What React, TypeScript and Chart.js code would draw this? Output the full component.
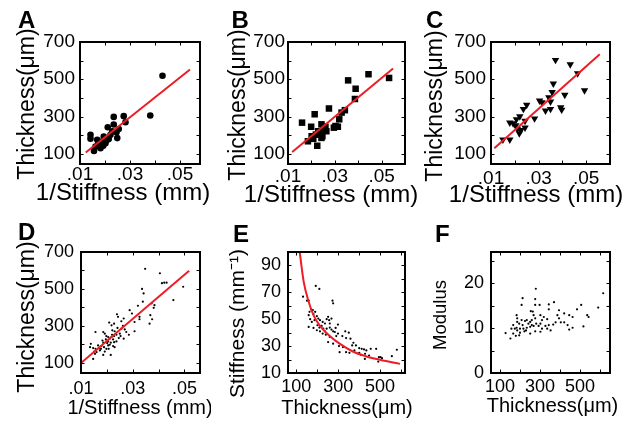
import React, { useEffect, useRef } from 'react';
import { Chart, registerables } from 'chart.js';

Chart.register(...registerables);

const FONT = '"Liberation Sans", Arial, Helvetica, sans-serif';
const RED = '#ee1c25';

// ---------- data: [1/stiffness (mm), thickness (um)] ----------
const aPoints: [number, number][] = [
  [0.0430, 519], [0.0381, 305], [0.0275, 302], [0.0235, 298], [0.0282, 269], [0.0235, 257],
  [0.0211, 242], [0.0255, 233], [0.0229, 220], [0.0246, 215], [0.0142, 202], [0.0142, 181],
  [0.0195, 193], [0.0215, 179], [0.0249, 184], [0.0169, 175], [0.0189, 166], [0.0178, 148],
  [0.0193, 143], [0.0162, 139], [0.0156, 115], [0.0222, 202], [0.0202, 157], [0.0173, 157],
  [0.0182, 130], [0.0209, 175],
];
const aFit: [number, number][] = [[0.0123, 107], [0.054, 552]];

const bPoints: [number, number][] = [
  [0.0444, 527], [0.0532, 507], [0.0357, 494], [0.0389, 449], [0.0386, 394], [0.0343, 334],
  [0.0329, 321], [0.0319, 285], [0.0303, 249], [0.0313, 245], [0.0296, 240], [0.0275, 343],
  [0.0214, 312], [0.0160, 267], [0.0199, 245], [0.0243, 258], [0.0260, 245], [0.0250, 231],
  [0.0229, 221], [0.0219, 203], [0.0201, 194], [0.0236, 203], [0.0247, 194], [0.0185, 167],
  [0.0208, 180], [0.0225, 143], [0.0264, 221], [0.0243, 185],
];
const bFit: [number, number][] = [[0.0118, 109], [0.0549, 558]];

const cPoints: [number, number][] = [
  [0.0371, 603], [0.0433, 580], [0.0464, 531], [0.0493, 440], [0.0362, 476], [0.0357, 431],
  [0.0410, 416], [0.0343, 403], [0.0304, 385], [0.0314, 376], [0.0350, 380], [0.0329, 331],
  [0.0350, 340], [0.0393, 349], [0.0397, 336], [0.0250, 362], [0.0236, 340], [0.0283, 289],
  [0.0221, 300], [0.0207, 285], [0.0243, 276], [0.0179, 267], [0.0193, 263], [0.0204, 252],
  [0.0243, 240], [0.0211, 234], [0.0219, 209], [0.0150, 176], [0.0179, 176], [0.0226, 227],
];
const cFit: [number, number][] = [[0.0114, 130], [0.0557, 634]];

const dPoints: [number, number][] = [
  [0.0348, 609], [0.0405, 585], [0.0413, 531], [0.0422, 534], [0.0431, 534], [0.0495, 512],
  [0.0457, 440], [0.0336, 500], [0.0342, 476], [0.0339, 431], [0.0320, 409], [0.0373, 422],
  [0.0384, 412], [0.0381, 398], [0.0288, 385], [0.0297, 367], [0.0326, 349], [0.0326, 336],
  [0.0368, 358], [0.0375, 336], [0.0365, 312], [0.0307, 321], [0.0265, 340], [0.0256, 325],
  [0.0239, 363], [0.0243, 349], [0.0228, 312], [0.0209, 318], [0.0218, 303], [0.0241, 289],
  [0.0262, 300], [0.0269, 281], [0.0275, 267], [0.0285, 252], [0.0250, 258], [0.0237, 252],
  [0.0230, 271], [0.0221, 276], [0.0156, 267], [0.0186, 267], [0.0192, 258], [0.0198, 245],
  [0.0205, 240], [0.0211, 231], [0.0196, 227], [0.0218, 240], [0.0224, 227], [0.0228, 212],
  [0.0237, 216], [0.0215, 209], [0.0205, 216], [0.0211, 198], [0.0186, 209], [0.0179, 191],
  [0.0166, 194], [0.0169, 180], [0.0156, 176], [0.0147, 180], [0.0138, 203], [0.0135, 185],
  [0.0160, 158], [0.0177, 176], [0.0189, 185], [0.0198, 176], [0.0205, 194], [0.0224, 191],
  [0.0230, 185], [0.0246, 234], [0.0253, 245], [0.0265, 231], [0.0154, 149], [0.0186, 143],
  [0.0215, 143], [0.0147, 121], [0.0192, 161], [0.0173, 167], [0.0151, 161], [0.0183, 221],
  [0.0220, 252], [0.0307, 271], [0.0207, 176], [0.0228, 245], [0.0256, 285], [0.0201, 207],
];
const dFit: [number, number][] = [[0.0101, 100], [0.0518, 598]];

// ---------- data: [thickness (um), stiffness (1/mm)] ----------
const ePoints: [number, number][] = [
  [193, 74.8], [210, 72.5], [132, 66.8], [151, 63.8], [159, 63.8], [273, 63.8], [276, 61.8],
  [171, 57.3], [179, 56.8], [190, 55.5], [163, 55.5], [159, 53], [182, 53.8], [198, 52.3],
  [166, 50], [174, 48], [187, 49.3], [205, 50.5], [213, 49.3], [226, 48], [245, 50],
  [252, 51.8], [257, 49.3], [268, 50.5], [260, 46.8], [237, 46.8], [221, 45], [210, 43.8],
  [229, 43], [245, 43], [260, 43.8], [268, 42.3], [276, 41], [284, 40.5], [299, 39.3],
  [299, 46], [334, 41], [351, 40], [338, 36], [359, 35.5], [373, 32.5], [367, 30.5],
  [385, 30.5], [401, 28.5], [413, 28], [424, 27.5], [435, 26.8], [456, 28], [482, 28],
  [378, 26.8], [401, 25], [338, 25.5], [354, 25], [307, 25.5], [276, 31.8], [252, 33],
  [260, 36.8], [241, 38.5], [226, 39.3], [213, 41], [198, 41.8], [159, 44.3], [182, 43.5],
  [304, 30], [323, 29.3], [429, 24.3], [448, 23], [495, 21.8], [503, 21.8], [510, 21],
  [492, 18.5], [557, 22.5], [581, 27.3], [428, 20.5], [409, 23.5], [320, 37.5], [291, 37.5],
  [237, 41], [201, 45.5], [288, 43.5],
];
const eFit: [number, number][] = [
  [116, 100], [135, 78], [159, 63], [182, 53], [213, 45], [260, 37.5], [307, 31.8],
  [370, 26], [432, 22.5], [495, 20], [557, 18], [596, 16.8],
];

// ---------- data: [thickness (um), modulus] ----------
const fPoints: [number, number][] = [
  [279, 18.8], [213, 16.7], [616, 17.8], [276, 16.5], [370, 15.8], [344, 15.3], [276, 15.2],
  [298, 15.2], [208, 15.2], [395, 14], [485, 14.2], [506, 15.2], [591, 14.6], [536, 12.9],
  [543, 12.5], [344, 14.2], [421, 13.3], [446, 12.9], [463, 12.5], [387, 12.9], [395, 12.2],
  [378, 11.3], [404, 11.3], [421, 11.3], [366, 10.8], [438, 10.7], [463, 10.1], [446, 9.7],
  [517, 10.4], [336, 12], [319, 12.5], [302, 12.9], [310, 11.8], [302, 11], [276, 12.2],
  [268, 12.9], [264, 13.7], [254, 13.8], [259, 11.8], [251, 11.4], [242, 11], [234, 11.8],
  [225, 11.6], [208, 11.8], [213, 10.7], [196, 11], [186, 12.2], [183, 12.9], [186, 11.4],
  [166, 10.7], [157, 9.9], [174, 9.9], [183, 10.1], [200, 9.9], [217, 9.9], [234, 10.1],
  [251, 10.3], [259, 10.7], [268, 10.5], [281, 11], [293, 10.5], [310, 9.9], [327, 10.5],
  [344, 10.7], [336, 9.9], [353, 9.5], [302, 9.2], [276, 9.3], [222, 9.3], [230, 9.5],
  [186, 9.5], [152, 7.7], [128, 8.9], [166, 8.8], [196, 8.4], [200, 9], [179, 8.3], [251, 8.8],
];

// ---------- ticks ----------
const invStiffTicks = [0.01, 0.03, 0.05];
const invStiffLabels = ['.01', '.03', '.05'];
const invStiffMarks = [0.02, 0.03, 0.04, 0.05];
const thickYTicks = [100, 300, 500, 700];
const thickYLabels = ['100', '300', '500', '700'];
const thickYMarks = [100, 200, 300, 400, 500, 600];
const thickXTicks = [100, 300, 500];
const thickXLabels = ['100', '300', '500'];
const thickXMarks = [100, 200, 300, 400, 500, 600];
const stiffTicks = [10, 30, 50, 70, 90];
const stiffLabels = ['10', '30', '50', '70', '90'];
const stiffMarks = [20, 30, 40, 50, 60, 70, 80, 90];
const modTicks = [0, 10, 20];
const modLabels = ['0', '10', '20'];
const modMarks = [5, 10, 15, 20, 25];

const INV_TITLE = '1/Stiffness (mm)';
const THICK_TITLE = 'Thickness(\u03bcm)';
const STIFF_TITLE = 'Stiffness (mm\u207b\u00b9)';
const MOD_TITLE = 'Modulus';

type AxisSpec = {
  min: number; max: number; ticks: number[]; labels: string[]; marks: number[];
  tickSize: number; tickPad: number;
};
type TitleSpec = { text: string; size: number; center: number; base: number };
type PanelSpec = {
  key: string; left: number; top: number; w: number; h: number;
  area: { l: number; t: number; r: number; b: number };
  letter: string; letterX: number; letterY: number;
  x: AxisSpec; y: AxisSpec; xTitle: TitleSpec; yTitle: TitleSpec;
  points: [number, number][]; marker: string; radius: number; rotation: number;
  fit: [number, number][]; smooth: boolean;
};

function axisOptions(a: AxisSpec, horizontal: boolean, size: number) {
  return {
    type: 'linear',
    min: a.min,
    max: a.max,
    grid: { display: false, drawTicks: false },
    border: { display: false },
    afterBuildTicks: (s: any) => { s.ticks = a.ticks.map((v) => ({ value: v })); },
    afterFit: (s: any) => { if (horizontal) s.height = size; else s.width = size; },
    ticks: {
      autoSkip: false, maxRotation: 0, minRotation: 0, padding: a.tickPad, color: '#000',
      font: { family: FONT, size: a.tickSize, lineHeight: 1 },
      callback: (_v: any, i: number) => a.labels[i],
    },
    title: { display: false },
  };
}

function buildChart(canvas: HTMLCanvasElement, p: PanelSpec) {
  const boxPlugin = {
    id: 'boxTicks' + p.key,
    afterDatasetsDraw(chart: any) {
      const { ctx, chartArea } = chart;
      const { left, top, right, bottom } = chartArea;
      const xs = chart.scales.x;
      const ys = chart.scales.y;
      const L = 3.5;
      ctx.save();
      ctx.strokeStyle = '#000';
      ctx.lineWidth = 1;
      ctx.beginPath();
      for (const v of p.x.marks) {
        const px = Math.round(xs.getPixelForValue(v)) + 0.5;
        ctx.moveTo(px, bottom); ctx.lineTo(px, bottom - L);
        ctx.moveTo(px, top); ctx.lineTo(px, top + L);
      }
      for (const v of p.y.marks) {
        const py = Math.round(ys.getPixelForValue(v)) + 0.5;
        ctx.moveTo(left, py); ctx.lineTo(left + L, py);
        ctx.moveTo(right, py); ctx.lineTo(right - L, py);
      }
      ctx.stroke();
      ctx.lineWidth = 2;
      ctx.strokeRect(left, top, right - left, bottom - top);
      ctx.fillStyle = '#000';
      ctx.textBaseline = 'alphabetic';
      // panel letter
      ctx.font = `bold 24px ${FONT}`;
      ctx.textAlign = 'left';
      ctx.fillText(p.letter, p.letterX, p.letterY);
      // x title
      ctx.textAlign = 'center';
      ctx.font = `${p.xTitle.size}px ${FONT}`;
      ctx.fillText(p.xTitle.text, p.xTitle.center, p.xTitle.base);
      // y title (rotated)
      ctx.save();
      ctx.translate(p.yTitle.base, p.yTitle.center);
      ctx.rotate(-Math.PI / 2);
      ctx.font = `${p.yTitle.size}px ${FONT}`;
      ctx.fillText(p.yTitle.text, 0, 0);
      ctx.restore();
      ctx.restore();
    },
  };
  return new Chart(canvas, {
    type: 'scatter',
    data: {
      datasets: [
        {
          type: 'line',
          data: p.fit.map(([x, y]) => ({ x, y })),
          borderColor: RED,
          borderWidth: 2,
          pointRadius: 0,
          fill: false,
          tension: p.smooth ? 0.4 : 0,
          cubicInterpolationMode: p.smooth ? 'monotone' : 'default',
        } as any,
        {
          data: p.points.map(([x, y]) => ({ x, y })),
          pointStyle: p.marker,
          pointRadius: p.radius,
          pointRotation: p.rotation,
          backgroundColor: '#000',
          borderColor: '#000',
          borderWidth: 0,
        } as any,
      ],
    },
    options: {
      responsive: false,
      animation: false,
      events: [],
      layout: { padding: { left: 0, top: p.area.t, right: p.w - p.area.r, bottom: 0 } },
      plugins: { legend: { display: false }, tooltip: { enabled: false } },
      scales: {
        x: axisOptions(p.x, true, p.h - p.area.b) as any,
        y: axisOptions(p.y, false, p.area.l) as any,
      },
    },
    plugins: [boxPlugin],
  });
}

const invX = (min: number, max: number, tickSize: number, tickPad: number): AxisSpec => ({
  min, max, ticks: invStiffTicks, labels: invStiffLabels, marks: invStiffMarks, tickSize, tickPad,
});
const thickY = (tickSize: number, tickPad: number): AxisSpec => ({
  min: 45, max: 700, ticks: thickYTicks, labels: thickYLabels, marks: thickYMarks, tickSize, tickPad,
});

const panels: PanelSpec[] = [
  {
    key: 'A', left: 0, top: 0, w: 211, h: 211, area: { l: 80, t: 42, r: 200, b: 164 },
    letter: 'A', letterX: 18, letterY: 28,
    x: invX(0.01, 0.058, 19, 1.5), y: thickY(19, 5),
    xTitle: { text: INV_TITLE, size: 24, center: 123, base: 200 },
    yTitle: { text: THICK_TITLE, size: 23, center: 104, base: 34 },
    points: aPoints, marker: 'circle', radius: 3.3, rotation: 0, fit: aFit, smooth: false,
  },
  {
    key: 'B', left: 211, top: 0, w: 211, h: 211, area: { l: 77, t: 42, r: 194, b: 164 },
    letter: 'B', letterX: 20.5, letterY: 28,
    x: invX(0.01, 0.06, 19, 3), y: thickY(19, 3),
    xTitle: { text: INV_TITLE, size: 24, center: 120, base: 202 },
    yTitle: { text: THICK_TITLE, size: 23, center: 105, base: 33.5 },
    points: bPoints, marker: 'rect', radius: 4.6, rotation: 0, fit: bFit, smooth: false,
  },
  {
    key: 'C', left: 422, top: 0, w: 212, h: 211, area: { l: 69, t: 42, r: 188, b: 164 },
    letter: 'C', letterX: 4, letterY: 28,
    x: invX(0.01, 0.06, 19, 5), y: thickY(19, 5),
    xTitle: { text: INV_TITLE, size: 24, center: 114, base: 202 },
    yTitle: { text: THICK_TITLE, size: 23, center: 106, base: 19.5 },
    points: cPoints, marker: 'triangle', radius: 4.3, rotation: 180, fit: cFit, smooth: false,
  },
  {
    key: 'D', left: 0, top: 211, w: 211, h: 212, area: { l: 81, t: 41, r: 200, b: 162 },
    letter: 'D', letterX: 18, letterY: 29,
    x: invX(0.01, 0.056, 18, 7), y: thickY(18, 7),
    xTitle: { text: INV_TITLE, size: 20, center: 140, base: 203 },
    yTitle: { text: THICK_TITLE, size: 23, center: 106, base: 34 },
    points: dPoints, marker: 'circle', radius: 1.1, rotation: 0, fit: dFit, smooth: false,
  },
  {
    key: 'E', left: 211, top: 211, w: 211, h: 212, area: { l: 77, t: 41, r: 194, b: 162 },
    letter: 'E', letterX: 22, letterY: 30.7,
    x: { min: 60, max: 620, ticks: thickXTicks, labels: thickXLabels, marks: thickXMarks, tickSize: 18, tickPad: 5.5 },
    y: { min: 10, max: 100, ticks: stiffTicks, labels: stiffLabels, marks: stiffMarks, tickSize: 18, tickPad: 7 },
    xTitle: { text: THICK_TITLE, size: 20, center: 136, base: 203 },
    yTitle: { text: STIFF_TITLE, size: 21, center: 112.5, base: 33 },
    points: ePoints, marker: 'circle', radius: 1.1, rotation: 0, fit: eFit, smooth: true,
  },
  {
    key: 'F', left: 422, top: 211, w: 212, h: 212, area: { l: 69, t: 41, r: 188, b: 162 },
    letter: 'F', letterX: 13, letterY: 30.7,
    x: { min: 55, max: 650, ticks: thickXTicks, labels: thickXLabels, marks: thickXMarks, tickSize: 18, tickPad: 5.5 },
    y: { min: 0, max: 27, ticks: modTicks, labels: modLabels, marks: modMarks, tickSize: 18, tickPad: 7 },
    xTitle: { text: THICK_TITLE, size: 20, center: 130.5, base: 201 },
    yTitle: { text: MOD_TITLE, size: 18.5, center: 104, base: 24 },
    points: fPoints, marker: 'circle', radius: 1.1, rotation: 0, fit: [], smooth: false,
  },
];

function Panel({ spec }: { spec: PanelSpec }) {
  const ref = useRef<HTMLCanvasElement>(null);
  useEffect(() => {
    if (!ref.current) return;
    const chart = buildChart(ref.current, spec);
    return () => chart.destroy();
  }, [spec]);
  return (
    <canvas
      ref={ref}
      width={spec.w}
      height={spec.h}
      style={{ position: 'absolute', left: spec.left, top: spec.top, width: spec.w, height: spec.h }}
    />
  );
}

export default function App() {
  return (
    <div style={{ position: 'fixed', left: 0, top: 0, width: 634, height: 423, background: '#fff', overflow: 'hidden' }}>
      {panels.map((p) => (
        <Panel key={p.key} spec={p} />
      ))}
    </div>
  );
}
